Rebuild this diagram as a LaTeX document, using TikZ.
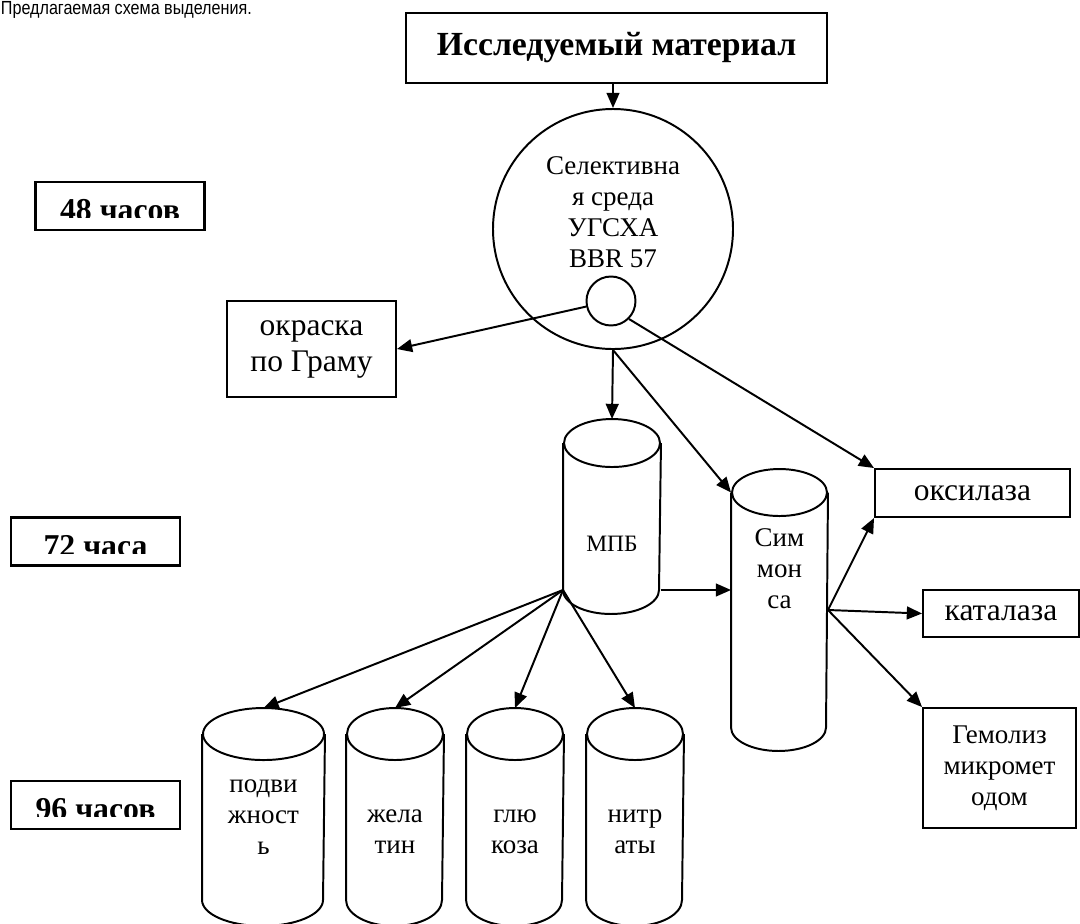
\documentclass[tikz,border=0pt]{standalone}
\usepackage{fontspec}
\setmainfont{Liberation Serif}
\setsansfont{Liberation Sans}
\usetikzlibrary{arrows.meta}
\newcommand{\px}{0.025cm}
% tube: name, x, y, width, height, depth of the end ellipse
\newcommand{\Tube}[6]{%
  \node[tubebox, minimum width=#4*\px, minimum height=#5*\px] (#1) at (#2,#3) {};
  \coordinate (#1-tl) at ([yshift=-#6*\px]#1.north west);
  \coordinate (#1-tr) at ([yshift=-#6*\px]#1.north east);
  \coordinate (#1-bl) at ([yshift=#6*\px]#1.south west);
  \coordinate (#1-br) at ([yshift=#6*\px]#1.south east);
  \draw[tubeline] ([yshift=-#6*\px]#1.north) ellipse [x radius=#4/2*\px, y radius=#6*\px];
  \draw[tubeline] (#1-tl) -- (#1-bl) arc [start angle=180, end angle=360, x radius=#4/2*\px, y radius=#6*\px] -- (#1-tr);
}
\tikzset{
    txt/.style={font=\fontsize{19.2}{22}\selectfont, align=center},
    bigtxt/.style={font=\fontsize{22.4}{25.6}\selectfont, align=center},
    box/.style={draw, line width=1.4pt, inner sep=0pt},
    tubebox/.style={rectangle, inner sep=0pt},
    tubeline/.style={-, line width=1.4pt},
    hours/.style 2 args={box, line width=1.7pt, minimum width=169*\px, minimum height=48*\px,
      path picture={
        \clip ([yshift=12.5*\px]path picture bounding box.south west) rectangle (path picture bounding box.north east);
        \node[font=\fontsize{22.6}{26}\selectfont\bfseries, anchor=base] (#2) at ([yshift=9.5*\px]path picture bounding box.south) {#1};
      }},
}

\begin{document}
\begin{tikzpicture}[x=\px, y=-\px, line width=1.4pt]
    \tikzset{
      ->,
      >={Triangle[length=0.38cm, width=0.32cm]}
    }
    \useasboundingbox (0,0) rectangle (1080,923);

    \node[anchor=base west, inner sep=0pt, font=\sffamily\fontsize{13.5}{16}\selectfont] (title) at (0,14.5) {\scalebox{0.85}[1]{Предлагаемая схема выделения.}};

    \node[box, minimum width=421*\px, minimum height=70*\px, font=\fontsize{24}{28}\selectfont\bfseries] (mat) at (616.5,48) {Исследуемый материал};
    \node[circle, draw, minimum size=240*\px, inner sep=0pt] (sel) at (613,229) {};
    \node[txt] (seltext) at (613,212) {Селективна\\я среда\\УГСХА\\BBR 57};
    \node[circle, draw, minimum size=49*\px, inner sep=0pt] (dot) at (611,301) {};

    \node[box, bigtxt, minimum width=169*\px, minimum height=96*\px] (gram) at (311.5,349) {окраска\\по Граму};

    \Tube{mpb}{612}{516.5}{96}{193}{24}
    \node[txt, font=\fontsize{16.7}{20}\selectfont] (mpbtext) at ([yshift=-27*\px]mpb) {МПБ};
    \Tube{sim}{779.5}{610}{95}{280}{23.5}
    \node[txt] (simtext) at ([yshift=41*\px]sim) {Сим\\мон\\са};

    \Tube{podv}{263.5}{817}{121}{216}{26}
    \Tube{zhel}{395}{817}{96}{216}{26}
    \Tube{glu}{515}{817}{96}{216}{26}
    \Tube{nitr}{635}{817}{96}{216}{26}
    \node[txt] (podvtext) at (podv) {подви\\жност\\ь};
    \node[txt] (zheltext) at ([yshift=-15*\px]zhel) {жела\\тин};
    \node[txt] (glutext) at ([yshift=-15*\px]glu) {глю\\коза};
    \node[txt] (nitrtext) at ([yshift=-15*\px]nitr) {нитр\\аты};

    \node[box, bigtxt, minimum width=195*\px, minimum height=48*\px] (oks) at (972.5,493) {оксилаза};
    \node[box, bigtxt, minimum width=156*\px, minimum height=47*\px] (kat) at (1001,613.5) {каталаза};
    \node[box, txt, minimum width=153*\px, minimum height=120*\px] (gem) at (999.5,768) {Гемолиз\\микромет\\одом};

    \node[hours={48 часов}{h48text}] (h48) at (120,206) {};
    \node[hours={72 часа}{h72text}] (h72) at (95.5,541.5) {};
    \node[hours={96 часов}{h96text}] (h96) at (95.5,805) {};

    \draw (sel.north |- mat.south) -- (sel.north);
    \path (dot) edge (gram.east);
    \path (dot.-45) edge (oks.north west);
    \path (sel.south) edge (mpb.north) edge (sim-tl);
    \draw (mpb-br) -- (mpb-br -| sim.west);
    \path (mpb-bl) edge (podv.north) edge (zhel.north) edge (glu.north) edge (nitr.north);
    \path (sim.east) edge (oks.south west) edge (kat.west) edge (gem.north west);
  \end{tikzpicture}
\end{document}
